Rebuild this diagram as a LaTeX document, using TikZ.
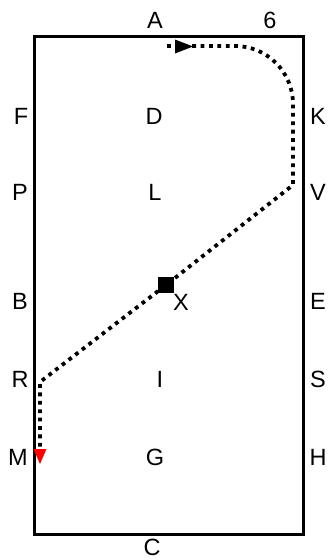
\documentclass[tikz,border=0pt]{standalone}
\usepackage{fontspec}
\setmainfont{Liberation Sans}
\begin{document}
\begin{tikzpicture}[x=1pt,y=-1pt,
  lbl/.style={inner sep=0pt,font=\fontsize{23.5}{28}\selectfont},
  dotpath/.style={line width=3.8pt,dash pattern=on 3.8pt off 4.6pt}]
\useasboundingbox (0,0) rectangle (331,560);
\draw[line width=3pt] (34.5,36.5) rectangle (303,534);
% labels
\node[lbl] (A) at (155,20) {A};
\node[lbl] (six) at (270,20) {6};
\node[lbl] (F) at (21,116) {F};
\node[lbl] (D) at (154,116) {D};
\node[lbl] (K) at (318,116) {K};
\node[lbl] (P) at (20,192) {P};
\node[lbl] (L) at (155,192) {L};
\node[lbl] (V) at (318,192) {V};
\node[lbl] (B) at (20,301) {B};
\node[lbl] (X) at (181,302) {X};
\node[lbl] (E) at (318,301) {E};
\node[lbl] (R) at (20,379) {R};
\node[lbl] (I) at (160,379) {I};
\node[lbl] (S) at (318,379) {S};
\node[lbl] (M) at (18,457) {M};
\node[lbl] (G) at (155,457) {G};
\node[lbl] (H) at (318,457) {H};
\node[lbl] (C) at (152,547.5) {C};
% path
\coordinate (p0) at (167,46);
\coordinate (p1) at (193,46);
\coordinate (p2) at (235,46);
\coordinate (p3) at (293,104);
\coordinate (p4) at (293,185);
\coordinate (sq) at (166,285);
\coordinate (p5) at (40,382);
\coordinate (p6) at (40,450);
\draw[dotpath] (p0) -- (p1) -- (p2) .. controls (267,46) and (293,72) .. (p3) -- (p4) -- (sq) -- (p5) -- (p6);
\fill (175,39.5) -- (193,46.5) -- (175,53.5) -- cycle;
\fill[red] (33.5,449) -- (46.5,449) -- (40,464) -- cycle;
\fill (158,277) rectangle (174,293);
\end{tikzpicture}
\end{document}
